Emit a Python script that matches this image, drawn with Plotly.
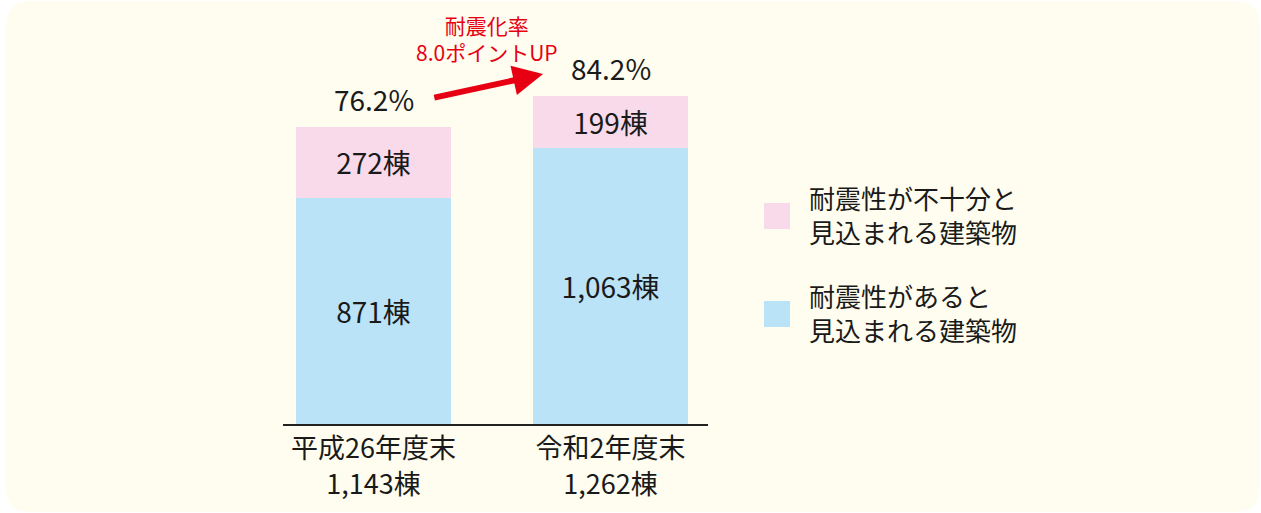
import plotly.graph_objects as go

categories = ["平成26年度末", "令和2年度末"]
seismic_ok = [871, 1063]          # 耐震性があると見込まれる建築物
seismic_short = [272, 199]        # 耐震性が不十分と見込まれる建築物
legend_labels = ["耐震性が不十分と<br>見込まれる建築物", "耐震性があると<br>見込まれる建築物"]
arrow_text = "耐震化率<br>8.0ポイントUP"

W, H = 1261, 513
BLUE = "#BBE3F8"
PINK = "#F9DAEA"
RED = "#E60012"
TXT = "#1a1a1a"
FONT = "Noto Sans CJK JP"

totals = [a + b for a, b in zip(seismic_ok, seismic_short)]
rates = [a / t * 100 for a, t in zip(seismic_ok, totals)]
xs = [0, 1]
ticktext = [f"{c}<br>{t:,}棟" for c, t in zip(categories, totals)]

fig = go.Figure()
fig.add_trace(go.Bar(x=xs, y=seismic_ok, marker=dict(color=BLUE, line=dict(width=0)),
                     width=0.654, text=[f"{v:,}棟" for v in seismic_ok],
                     textposition="inside", insidetextanchor="middle",
                     textfont=dict(size=28, color=TXT, family=FONT), name=legend_labels[1]))
fig.add_trace(go.Bar(x=xs, y=seismic_short, marker=dict(color=PINK, line=dict(width=0)),
                     width=0.654, text=[f"{v:,}棟" for v in seismic_short],
                     textposition="inside", insidetextanchor="middle",
                     textfont=dict(size=28, color=TXT, family=FONT), name=legend_labels[0]))

def px_x(p):
    return p / W

def px_y(p):
    return 1 - p / H

# rounded background
x0, x1, y0, y1, r = 6, 1260, 1, 512, 25
rx, ry = r / W, r / H
X0, X1, Y0, Y1 = px_x(x0), px_x(x1), px_y(y1), px_y(y0)
path = (f"M {X0+rx},{Y1} L {X1-rx},{Y1} Q {X1},{Y1} {X1},{Y1-ry} "
        f"L {X1},{Y0+ry} Q {X1},{Y0} {X1-rx},{Y0} L {X0+rx},{Y0} "
        f"Q {X0},{Y0} {X0},{Y0+ry} L {X0},{Y1-ry} Q {X0},{Y1} {X0+rx},{Y1} Z")
shapes = [dict(type="path", path=path, xref="paper", yref="paper",
               fillcolor="#FFFDEF", line=dict(width=0), layer="below")]

# legend squares
for (top, col) in [(203, PINK), (301, BLUE)]:
    shapes.append(dict(type="rect", xref="paper", yref="paper",
                       x0=px_x(764), x1=px_x(790), y0=px_y(top + 26), y1=px_y(top),
                       fillcolor=col, line=dict(width=0)))

annotations = []
for x, t, rt in zip(xs, totals, rates):
    annotations.append(dict(x=x, y=t, xref="x", yref="y", text=f"{rt:.1f}%",
                            showarrow=False, yanchor="bottom", yshift=6,
                            font=dict(size=28, color=TXT, family=FONT)))
for yc, lab in [(214, legend_labels[0]), (312, legend_labels[1])]:
    annotations.append(dict(x=px_x(807), y=px_y(yc), xref="paper", yref="paper",
                            text=lab, showarrow=False, xanchor="left", yanchor="middle",
                            align="left", font=dict(size=26, color=TXT, family=FONT)))
# arrow
annotations.append(dict(x=0.715, y=1346, ax=0.25, ay=1254, xref="x", yref="y",
                        axref="x", ayref="y", text="", showarrow=True,
                        arrowhead=2, arrowsize=1.0, arrowwidth=6, arrowcolor=RED))
annotations.append(dict(x=px_x(487), y=px_y(38), xref="paper", yref="paper",
                        text=arrow_text, showarrow=False, xanchor="center", yanchor="middle",
                        font=dict(size=21, color=RED, family=FONT)))

fig.update_layout(
    width=W, height=H, margin=dict(l=0, r=0, t=0, b=0),
    paper_bgcolor="white", plot_bgcolor="rgba(0,0,0,0)",
    barmode="stack", showlegend=False,
    shapes=shapes, annotations=annotations,
    font=dict(family=FONT, color=TXT),
    xaxis=dict(domain=[283 / W, 708 / W], range=[-0.382, 1.411],
               tickmode="array", tickvals=xs, ticktext=ticktext,
               showgrid=False, zeroline=False, showline=True, linecolor="#222", linewidth=2,
               ticks="", tickfont=dict(size=27, color=TXT, family=FONT), fixedrange=True),
    yaxis=dict(domain=[89 / H, 479 / H], range=[0, 1500], visible=False, fixedrange=True),
    uniformtext=dict(mode="show", minsize=10),
)

fig.write_html("out.html", config={"displayModeBar": False},
               post_script="document.body.style.margin='0';document.body.style.overflow='hidden';")
